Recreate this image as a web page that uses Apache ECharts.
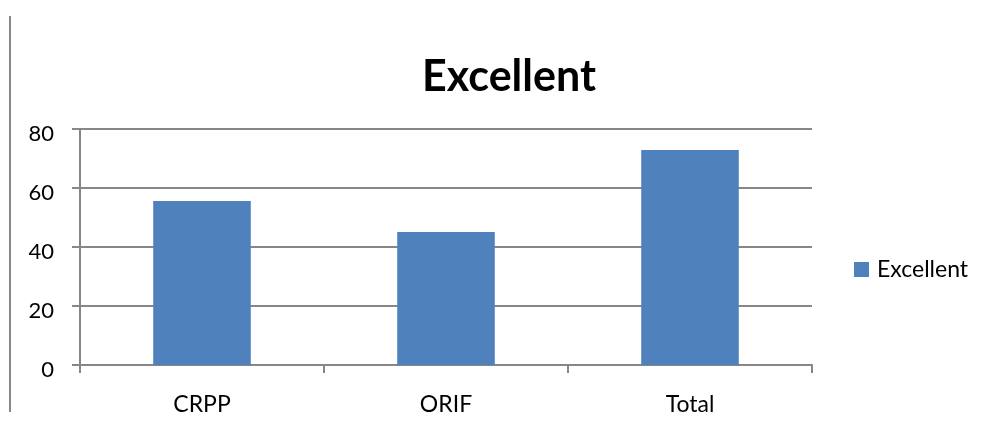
<!DOCTYPE html>
<html><head><meta charset="utf-8">
<script src="https://cdn.jsdelivr.net/npm/echarts@6/dist/echarts.min.js"></script>
<style>html,body{margin:0;padding:0;background:#fff}#c{width:985px;height:422px}</style>
</head><body><div id="c"></div>
<script>
const categories = ['CRPP', 'ORIF', 'Total'];
const excellentValues = [55.5, 45.0, 72.8];
const yTicks = [0, 20, 40, 60, 80];
const seriesName = 'Excellent';

const font = 'Lato, "Open Sans", sans-serif';
const chart = echarts.init(document.getElementById('c'));
chart.setOption({
  backgroundColor: '#fff',
  animation: false,
  title: {
    text: 'Excellent', left: 504, top: 51, textAlign: 'center',
    textStyle: { fontFamily: font, fontSize: 43, fontWeight: 'bold', color: '#000' }
  },
  legend: {
    data: [seriesName], left: 849, top: 253, itemWidth: 15, itemHeight: 15,
    icon: 'rect',
    textStyle: { fontFamily: font, fontSize: 23, color: '#000', padding: [6, 0, 0, 3] }
  },
  grid: { left: 80, right: 173, top: 128.7, bottom: 57 },
  xAxis: {
    type: 'category', data: categories,
    axisLine: { lineStyle: { color: '#878787', width: 2 } },
    axisTick: { show: true, length: 8, lineStyle: { color: '#878787', width: 2 } },
    axisLabel: { fontFamily: font, fontSize: 23, color: '#000', margin: 28 }
  },
  yAxis: {
    type: 'value', min: yTicks[0], max: yTicks[yTicks.length - 1], interval: 20,
    axisLine: { show: true, lineStyle: { color: '#878787', width: 2 } },
    axisTick: { show: true, length: 8, lineStyle: { color: '#878787', width: 2 } },
    splitLine: { lineStyle: { color: '#878787', width: 2 } },
    axisLabel: { fontFamily: font, fontSize: 22, color: '#000', margin: 26, verticalAlign: 'top', lineHeight: 10 }
  },
  series: [{
    name: seriesName, type: 'bar', data: excellentValues,
    barWidth: '40%', itemStyle: { color: '#4F81BD' }
  }],
  graphic: [{
    type: 'line', shape: { x1: 10, y1: 16, x2: 10, y2: 412 },
    style: { stroke: '#878787', lineWidth: 2 }
  }]
});
</script></body></html>
